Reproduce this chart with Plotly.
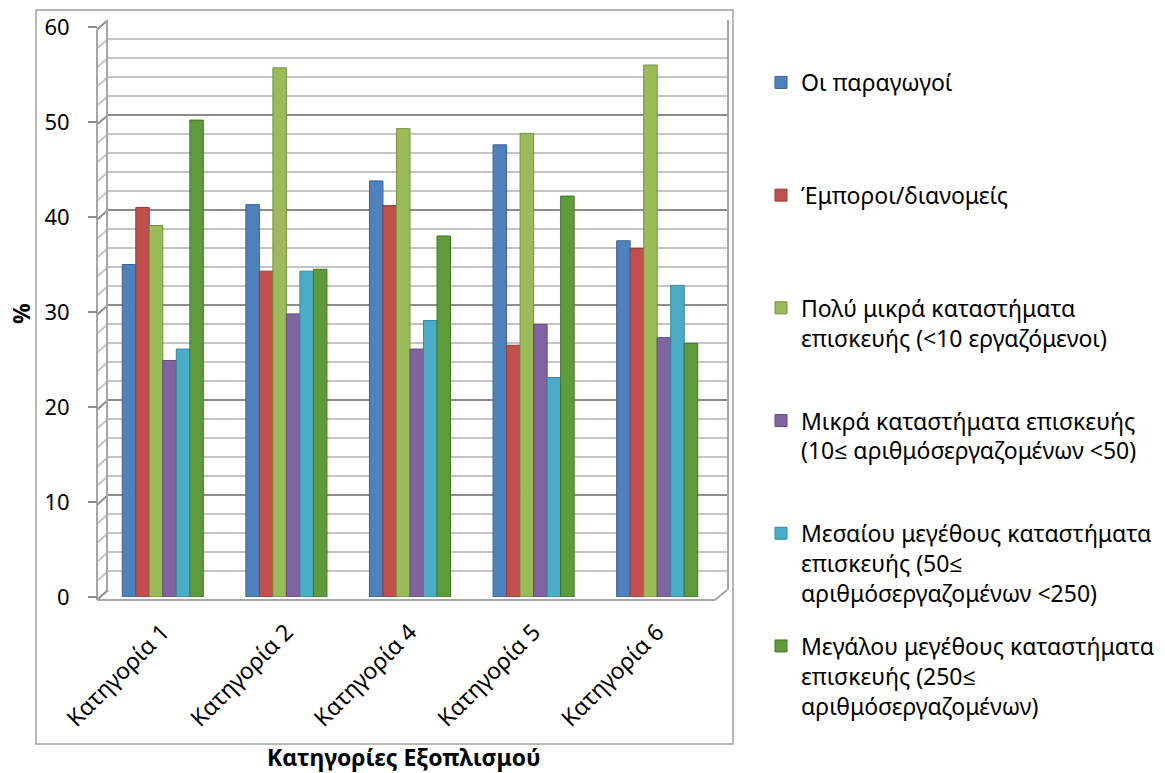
import numpy as np
import plotly.graph_objects as go

# ---- data -------------------------------------------------------------
categories = ["Κατηγορία 1", "Κατηγορία 2", "Κατηγορία 4", "Κατηγορία 5", "Κατηγορία 6"]

series_names = [
    "Οι παραγωγοί",
    "Έμποροι/διανομείς",
    "Πολύ μικρά καταστήματα<br>επισκευής (&lt;10 εργαζόμενοι)",
    "Μικρά καταστήματα επισκευής<br>(10≤ αριθμόσεργαζομένων &lt;50)",
    "Μεσαίου μεγέθους καταστήματα<br>επισκευής (50≤<br>αριθμόσεργαζομένων &lt;250)",
    "Μεγάλου μεγέθους καταστήματα<br>επισκευής (250≤<br>αριθμόσεργαζομένων)",
]

producers = [35.0, 41.3, 43.8, 47.6, 37.5]
dealers = [41.0, 34.3, 41.2, 26.5, 36.7]
very_small_shops = [39.1, 55.7, 49.3, 48.8, 56.0]
small_shops = [24.9, 29.8, 26.1, 28.7, 27.3]
medium_shops = [26.1, 34.3, 29.1, 23.1, 32.8]
large_shops = [50.2, 34.5, 38.0, 42.2, 26.7]

series_values = [producers, dealers, very_small_shops, small_shops, medium_shops, large_shops]
colors = ["#4F81BD", "#C0504D", "#9BBB59", "#8064A2", "#4BACC6", "#5E9B3B"]
edge_colors = ["#3A6293", "#943C3A", "#76913F", "#5F4A7C", "#35889E", "#457529"]

y_ticks = [0, 10, 20, 30, 40, 50, 60]

# ---- canvas geometry (pixels) ------------------------------------------
W, H = 1165, 773
FONT = "Noto Sans, Open Sans, sans-serif"


def px(x):
    return x / W


def py(y):
    return (H - y) / H


# back wall, bar row and front edge of the pseudo-3D box
WALL_L, WALL_R, WALL_Y0, WALL_Y60 = 108, 727, 590, 20
BAR_L, BAR_R, BAR_Y0, BAR_Y60 = 101, 719, 597, 27
FRONT_X, FRONT_Y0, FRONT_Y60 = 97, 600, 29.5

fig = go.Figure()

# empty trace keeps the back-wall subplot alive
fig.add_trace(go.Scatter(x=[], y=[], xaxis="x", yaxis="y", showlegend=False, hoverinfo="skip"))

for name, vals, col, edge in zip(series_names, series_values, colors, edge_colors):
    pad = 3 - name.count("<br>") - 1
    label = name + "<br>\u00a0" * pad
    fig.add_trace(
        go.Bar(
            x=categories,
            y=vals,
            name=label,
            xaxis="x2",
            yaxis="y2",
            marker=dict(color=col, line=dict(color=edge, width=1)),
            legendgroup=name,
        )
    )

# ---- side wall and floor of the box ----------------------------------
shapes = []
grid_levels = np.arange(0, 61, 2)
for v in grid_levels:
    yf = FRONT_Y0 - (FRONT_Y0 - FRONT_Y60) * v / 60
    yb = WALL_Y0 - (WALL_Y0 - WALL_Y60) * v / 60
    major = v % 10 == 0
    shapes.append(dict(
        type="line", xref="paper", yref="paper", layer="below",
        x0=px(FRONT_X), y0=py(yf), x1=px(WALL_L), y1=py(yb),
        line=dict(color="#8C8C8C" if major else "#C4C4C4", width=2),
    ))
# front vertical edge
shapes.append(dict(type="line", xref="paper", yref="paper", layer="below",
                   x0=px(FRONT_X), y0=py(FRONT_Y0), x1=px(FRONT_X), y1=py(FRONT_Y60),
                   line=dict(color="#A6A6A6", width=2)))
# floor front edge and right slant
shapes.append(dict(type="line", xref="paper", yref="paper", layer="below",
                   x0=px(FRONT_X), y0=py(FRONT_Y0), x1=px(715), y1=py(FRONT_Y0),
                   line=dict(color="#A6A6A6", width=2)))
shapes.append(dict(type="line", xref="paper", yref="paper", layer="below",
                   x0=px(715), y0=py(FRONT_Y0), x1=px(WALL_R), y1=py(WALL_Y0),
                   line=dict(color="#A6A6A6", width=2)))
# chart frame
shapes.append(dict(type="rect", xref="paper", yref="paper", layer="below",
                   x0=px(36), y0=py(744), x1=px(733), y1=py(10),
                   line=dict(color="#A0A0A0", width=1.5), fillcolor="rgba(0,0,0,0)"))

annotations = [
    dict(text="<b>%</b>", xref="paper", yref="paper", x=px(21), y=py(314),
         xanchor="center", yanchor="middle",
         showarrow=False, textangle=-90, font=dict(size=23, color="black", family=FONT)),
    dict(text="<b>Κατηγορίες Εξοπλισμού</b>", xref="paper", yref="paper", x=px(404), y=py(757),
         xanchor="center", yanchor="middle",
         showarrow=False, font=dict(size=23, color="black", family=FONT)),
]

fig.update_layout(
    width=W,
    height=H,
    margin=dict(l=0, r=0, t=0, b=0, autoexpand=False),
    paper_bgcolor="white",
    plot_bgcolor="rgba(0,0,0,0)",
    font=dict(family=FONT, size=20, color="black"),
    barmode="group",
    bargap=0.344,
    bargroupgap=0,
    shapes=shapes,
    annotations=annotations,
    # back wall with its grid
    xaxis=dict(domain=[px(WALL_L), px(WALL_R)], range=[0, 1], anchor="y", automargin=False,
               showgrid=False, zeroline=False, showticklabels=False, showline=False, ticks=""),
    yaxis=dict(domain=[py(WALL_Y0), py(WALL_Y60)], range=[0, 60], anchor="x", automargin=False,
               dtick=10, showgrid=True, gridcolor="#8C8C8C", gridwidth=2,
               minor=dict(dtick=2, showgrid=True, gridcolor="#C4C4C4", gridwidth=2),
               showticklabels=False, zeroline=False, ticks="",
               showline=True, linecolor="#A6A6A6", linewidth=2, mirror=True),
    # bars and the value scale
    xaxis2=dict(domain=[px(BAR_L), px(BAR_R)], anchor="y2", type="category", automargin=False,
                tickangle=-45, showgrid=False, zeroline=False, showline=False,
                ticks="", ticklabelstandoff=16,
                tickfont=dict(size=23, family=FONT, color="black")),
    yaxis2=dict(domain=[py(BAR_Y0), py(BAR_Y60)], range=[0, 60], anchor="free", automargin=False,
                position=px(FRONT_X), tickvals=y_ticks, showgrid=False, zeroline=False,
                showline=False, ticks="outside", ticklen=9, tickcolor="#8C8C8C", tickwidth=2,
                ticklabelstandoff=14,
                tickfont=dict(size=22, family=FONT, color="black")),
    legend=dict(
        x=px(761), y=py(61), xanchor="left", yanchor="top",
        valign="top", tracegroupgap=20, traceorder="grouped",
        font=dict(size=23, family=FONT, color="black"),
        bgcolor="rgba(0,0,0,0)",
    ),
    showlegend=True,
)

fig.write_html("out.html")
